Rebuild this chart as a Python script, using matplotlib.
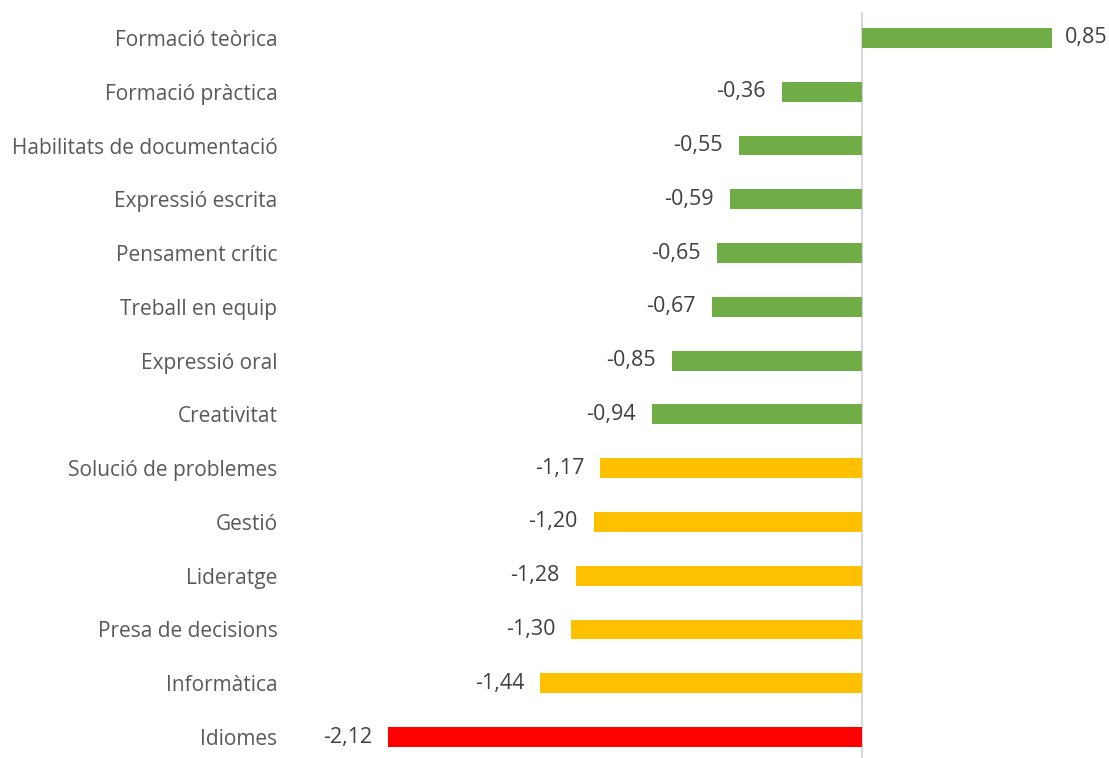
import matplotlib
matplotlib.use("Agg")
import matplotlib.pyplot as plt

categories = ["Formació teòrica", "Formació pràctica", "Habilitats de documentació",
              "Expressió escrita", "Pensament crític", "Treball en equip",
              "Expressió oral", "Creativitat", "Solució de problemes", "Gestió",
              "Lideratge", "Presa de decisions", "Informàtica", "Idiomes"]
values = [0.85, -0.36, -0.55, -0.59, -0.65, -0.67, -0.85, -0.94,
          -1.17, -1.20, -1.28, -1.30, -1.44, -2.12]
colors = ["#70AD47"] * 8 + ["#FFC000"] * 5 + ["#FF0000"]

plt.rcParams['font.family'] = ['Open Sans', 'DejaVu Sans']

W, H = 1109, 758
fig = plt.figure(figsize=(W / 100, H / 100), dpi=100)
left_px, right_px = 290, 1100
top_px, bot_px = 12, 758
ax = fig.add_axes([left_px / W, 1 - bot_px / H, (right_px - left_px) / W, (bot_px - top_px) / H])

scale = 223.6  # px per unit
zero_px = 862
ax.set_xlim((left_px - zero_px) / scale, (right_px - zero_px) / scale)
spacing = (737 - 38) / 13
ax.set_ylim((bot_px - 38) / spacing, (top_px - 38) / spacing)

y = list(range(len(categories)))
ax.barh(y, values, height=0.37, color=colors)

for yi, v in zip(y, values):
    txt = f"{v:.2f}".replace(".", ",")
    if v >= 0:
        ax.annotate(txt, (v, yi), xytext=(9, 0), textcoords="offset points",
                    ha="left", va="center", fontsize=15.5, color="#404040")
    else:
        ax.annotate(txt, (v, yi), xytext=(-11.5, 0), textcoords="offset points",
                    ha="right", va="center", fontsize=15.5, color="#404040")

ax.set_yticks(y)
ax.set_yticklabels(categories, fontsize=15, color="#595959")
ax.tick_params(axis="y", length=0, pad=9)
ax.set_xticks([])
for s in ["top", "right", "bottom", "left"]:
    ax.spines[s].set_visible(False)
ax.axvline(0, color="#D9D9D9", lw=1.5, zorder=0)

fig.savefig("out.png", dpi=100, facecolor="white")
